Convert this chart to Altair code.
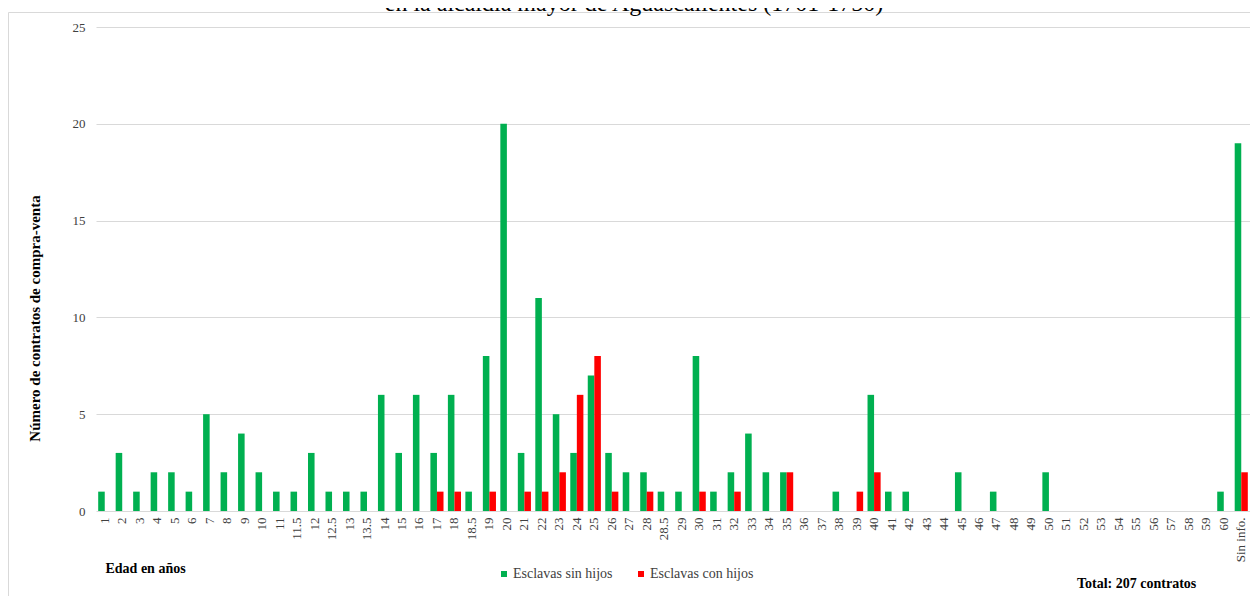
import altair as alt
import pandas as pd

edades = ["1", "2", "3", "4", "5", "6", "7", "8", "9", "10", "11", "11.5", "12", "12.5",
          "13", "13.5", "14", "15", "16", "17", "18", "18.5", "19", "20", "21", "22", "23",
          "24", "25", "26", "27", "28", "28.5", "29", "30", "31", "32", "33", "34", "35",
          "36", "37", "38", "39", "40", "41", "42", "43", "44", "45", "46", "47", "48", "49",
          "50", "51", "52", "53", "54", "55", "56", "57", "58", "59", "60", "Sin info."]

sin_hijos = [1, 3, 1, 2, 2, 1, 5, 2, 4, 2, 1, 1, 3, 1,
             1, 1, 6, 3, 6, 3, 6, 1, 8, 20, 3, 11, 5,
             3, 7, 3, 2, 2, 1, 1, 8, 1, 2, 4, 2, 2,
             0, 0, 1, 0, 6, 1, 1, 0, 0, 2, 0, 1, 0, 0,
             2, 0, 0, 0, 0, 0, 0, 0, 0, 0, 1, 19]

con_hijos = [0, 0, 0, 0, 0, 0, 0, 0, 0, 0, 0, 0, 0, 0,
             0, 0, 0, 0, 0, 1, 1, 0, 1, 0, 1, 1, 2,
             6, 8, 1, 0, 1, 0, 0, 1, 0, 1, 0, 0, 2,
             0, 0, 0, 1, 2, 0, 0, 0, 0, 0, 0, 0, 0, 0,
             0, 0, 0, 0, 0, 0, 0, 0, 0, 0, 0, 2]

series = ["Esclavas sin hijos", "Esclavas con hijos"]
colores = ["#00B050", "#FF0000"]
y_ticks = [0, 5, 10, 15, 20, 25]

titulo = "en la alcaldía mayor de Aguascalientes (1701-1750)"
eje_x = "Edad en años"
eje_y = "Número de contratos de compra-venta"
total = "Total: 207 contratos"

rows = []
for e, a, b in zip(edades, sin_hijos, con_hijos):
    if a > 0:
        rows.append({"edad": e, "serie": series[0], "n": a})
    if b > 0:
        rows.append({"edad": e, "serie": series[1], "n": b})
df = pd.DataFrame(rows)

FONT = "Liberation Serif"

bars = alt.Chart(df).mark_bar(stroke=None).encode(
    x=alt.X("edad:N", sort=edades,
            scale=alt.Scale(domain=edades, paddingInner=0.25, paddingOuter=0.125),
            axis=alt.Axis(title=eje_x, labelAngle=270, labelFont=FONT, labelFontSize=13,
                          labelColor="#404040", labelPadding=6, ticks=False, domain=False,
                          titleFont=FONT, titleFontSize=14, titleFontWeight="bold",
                          titleColor="#000000", titleX=9, titleY=61, titleAlign="left",
                          titleBaseline="alphabetic", titleAnchor="start")),
    xOffset=alt.XOffset("serie:N", sort=series,
                        scale=alt.Scale(domain=series, paddingInner=0, paddingOuter=0)),
    y=alt.Y("n:Q", scale=alt.Scale(domain=[0, 25], nice=False),
            axis=alt.Axis(title=eje_y, values=y_ticks, labelFont=FONT, labelFontSize=13,
                          labelColor="#404040", labelPadding=11, ticks=False, domain=False,
                          grid=True, gridColor="#D9D9D9", gridWidth=1,
                          titleFont=FONT, titleFontSize=15, titleFontWeight="bold",
                          titleColor="#000000", titleX=-62, titleY=291, titleAngle=270,
                          titleAlign="center", titleBaseline="middle")),
    color=alt.Color("serie:N", sort=series,
                    scale=alt.Scale(domain=series, range=colores),
                    legend=alt.Legend(title=None, orient="none", legendX=401, legendY=540,
                                      direction="horizontal", symbolType="square",
                                      symbolSize=36, symbolStrokeWidth=0,
                                      labelFont=FONT, labelFontSize=14, labelColor="#404040",
                                      labelOffset=2, columnPadding=21, padding=0)),
)

border = alt.Chart(pd.DataFrame({"b": [1]})).mark_rect(
    filled=False, stroke="#D9D9D9", strokeWidth=1
).encode(x=alt.value(-87.5), x2=alt.value(1300), y=alt.value(-14.5), y2=alt.value(700))

title_txt = alt.Chart(pd.DataFrame({"t": [titulo]})).mark_text(
    font=FONT, fontSize=24, color="#000000", align="center", baseline="alphabetic"
).encode(text="t:N", x=alt.value(538), y=alt.value(-16.5))

total_txt = alt.Chart(pd.DataFrame({"t": [total]})).mark_text(
    font=FONT, fontSize=14, fontWeight="bold", color="#000000", align="left",
    baseline="alphabetic"
).encode(text="t:N", x=alt.value(981), y=alt.value(561))

chart = alt.layer(border, bars, title_txt, total_txt).properties(
    width=1154, height=484,
    padding={"left": 88, "top": 19, "right": 0, "bottom": 85},
    autosize=alt.AutoSizeParams(type="none"),
    background="#FFFFFF",
).configure(font=FONT).configure_view(strokeWidth=0)

chart.save("out.html", embed_options={"renderer": "svg", "actions": False})
